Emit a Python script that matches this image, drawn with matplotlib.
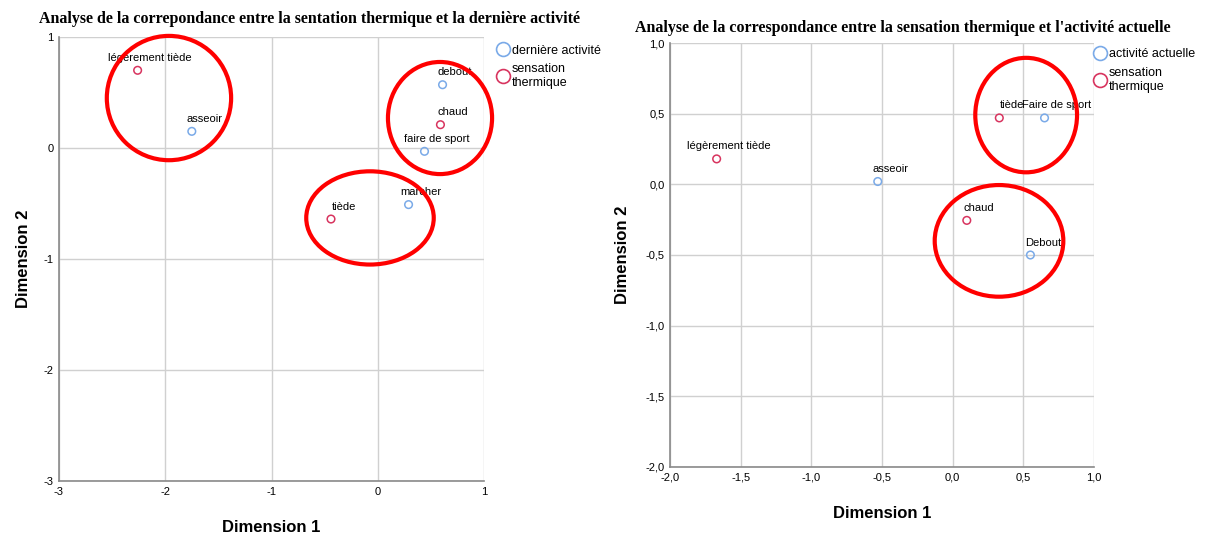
import matplotlib
matplotlib.use("Agg")
import matplotlib.pyplot as plt
from matplotlib.patches import Ellipse
from matplotlib.ticker import FuncFormatter
from matplotlib.lines import Line2D

plt.rcParams['font.family'] = ['Liberation Sans', 'DejaVu Sans']
plt.rcParams['axes.unicode_minus'] = False

# --- graphique 1 : sensation thermique vs dernière activité ---
act1_noms = ["asseoir", "debout", "faire de sport", "marcher"]
act1_x = [-1.75, 0.61, 0.44, 0.29]
act1_y = [0.15, 0.57, -0.03, -0.51]
sens1_noms = ["légèrement tiède", "chaud", "tiède"]
sens1_x = [-2.26, 0.59, -0.44]
sens1_y = [0.70, 0.21, -0.64]
# cercles rouges (centre x, centre y, largeur, hauteur)
cercles1 = [(-1.965, 0.45, 1.17, 1.12), (0.586, 0.27, 0.98, 1.01), (-0.073, -0.63, 1.20, 0.84)]

# --- graphique 2 : sensation thermique vs activité actuelle ---
act2_noms = ["asseoir", "Faire de sport", "Debout"]
act2_x = [-0.53, 0.65, 0.55]
act2_y = [0.02, 0.47, -0.50]
sens2_noms = ["légèrement tiède", "tiède", "chaud"]
sens2_x = [-1.67, 0.33, 0.10]
sens2_y = [0.18, 0.47, -0.255]
cercles2 = [(0.52, 0.49, 0.72, 0.81), (0.328, -0.40, 0.91, 0.79)]

bleu = "#7aaae8"
rouge = "#d8345f"

fig = plt.figure(figsize=(12.1, 5.36), dpi=100)
ax1 = fig.add_axes([59/1210, 55/536, 425/1210, 444/536])
ax2 = fig.add_axes([670/1210, 69/536, 424/1210, 424/536])


def dessiner(ax, ax_noms, ax_x, ax_y, s_noms, s_x, s_y, cercles):
    ax.scatter(ax_x, ax_y, s=30, facecolors="none", edgecolors=bleu, linewidths=1.1, zorder=3)
    ax.scatter(s_x, s_y, s=30, facecolors="none", edgecolors=rouge, linewidths=1.1, zorder=3)
    for n, x, y in zip(ax_noms + s_noms, ax_x + s_x, ax_y + s_y):
        ax.annotate(n, (x, y), xytext=(9, 9), textcoords="offset points",
                    ha="center", va="center", fontsize=8, zorder=4)
    for cx, cy, w, h in cercles:
        ax.add_patch(Ellipse((cx, cy), w, h, fill=False, edgecolor="red", lw=3,
                             zorder=5, clip_on=False))
    ax.grid(True, color="#d0d0d0", lw=1)
    ax.set_axisbelow(True)
    for s in ["top", "right"]:
        ax.spines[s].set_visible(False)
    for s in ["left", "bottom"]:
        ax.spines[s].set_color("#8a8a8a")
        ax.spines[s].set_linewidth(1.2)
    ax.tick_params(length=0, labelsize=8, pad=4)
    ax.set_xlabel("Dimension 1", fontsize=12, fontweight="bold", labelpad=17)


dessiner(ax1, act1_noms, act1_x, act1_y, sens1_noms, sens1_x, sens1_y, cercles1)
ax1.set_xlim(-3, 1)
ax1.set_ylim(-3, 1)
ax1.set_xticks([-3, -2, -1, 0, 1])
ax1.set_yticks([-3, -2, -1, 0, 1])
ax1.set_ylabel("Dimension 2", fontsize=12, fontweight="bold", labelpad=9)
ax1.set_title("Analyse de la correpondance entre la sentation thermique et la dernière activité",
              fontfamily="Liberation Serif", fontweight="bold", fontsize=11.5, x=0.59, pad=10)

dessiner(ax2, act2_noms, act2_x, act2_y, sens2_noms, sens2_x, sens2_y, cercles2)
ax2.set_xlim(-2, 1)
ax2.set_ylim(-2, 1)
ticks2 = [-2.0, -1.5, -1.0, -0.5, 0.0, 0.5, 1.0]
ax2.set_xticks(ticks2)
ax2.set_yticks(ticks2)
virgule = FuncFormatter(lambda v, p: f"{v:.1f}".replace(".", ","))
ax2.xaxis.set_major_formatter(virgule)
ax2.yaxis.set_major_formatter(virgule)
ax2.set_ylabel("Dimension 2", fontsize=12, fontweight="bold", labelpad=11)
ax2.set_title("Analyse de la correspondance entre la sensation thermique et l'activité actuelle",
              fontfamily="Liberation Serif", fontweight="bold", fontsize=11.5, x=0.55, pad=8)

for ax, lab, bx, by in [(ax1, "dernière activité", 1.015, 1.0), (ax2, "activité actuelle", 0.985, 1.005)]:
    poignees = [Line2D([], [], ls="none", marker="o", ms=10, mfc="none", mec=bleu, mew=1.2),
                Line2D([], [], ls="none", marker="o", ms=10, mfc="none", mec=rouge, mew=1.2)]
    ax.legend(poignees, [lab, "sensation\nthermique"], loc="upper left", bbox_to_anchor=(bx, by),
              frameon=False, fontsize=9, handlelength=0.8, handletextpad=0.3,
              borderaxespad=0.2, labelspacing=0.55)

fig.savefig("out.png", dpi=100)
